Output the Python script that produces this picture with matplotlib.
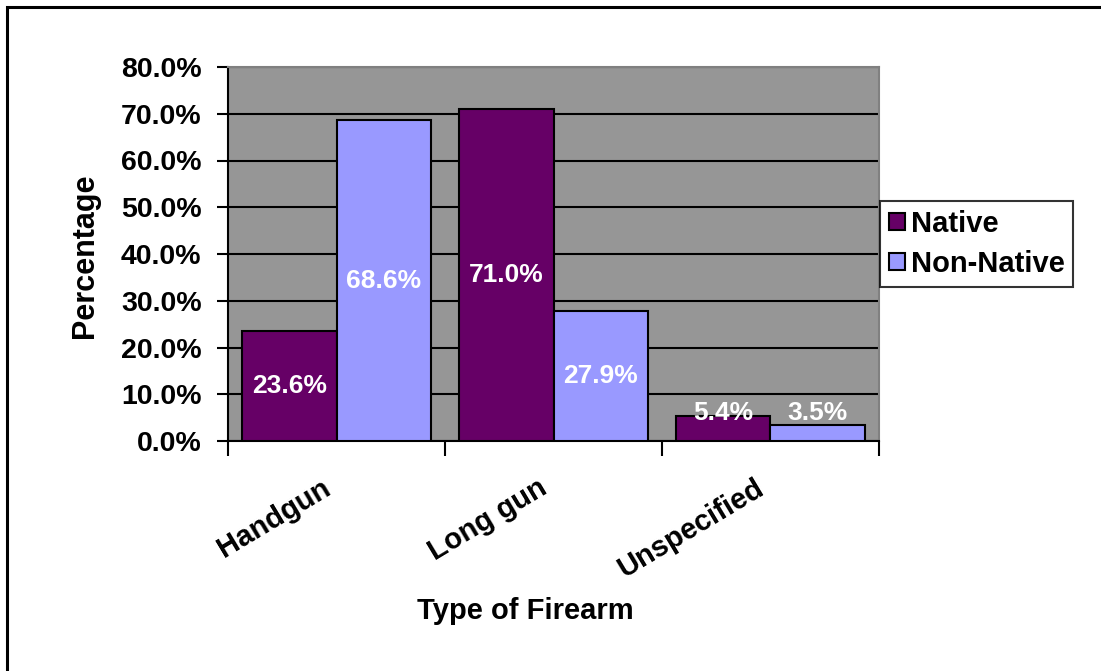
import numpy as np
import matplotlib.pyplot as plt
from matplotlib.patches import Rectangle

plt.rcParams['font.family'] = ['Liberation Sans', 'DejaVu Sans']
plt.rcParams['font.weight'] = 'bold'

categories = ['Handgun', 'Long gun', 'Unspecified']
native = [23.6, 71.0, 5.4]
non_native = [68.6, 27.9, 3.5]
yticks = [0, 10, 20, 30, 40, 50, 60, 70, 80]

W, H = 1101, 671
fig = plt.figure(figsize=(W / 100, H / 100), dpi=100)

# outer chart border (only left/top visible in the original)
fig.patches.append(Rectangle((7 / W, -0.1), 1.2, 1 - 7 / H + 0.1,
                             transform=fig.transFigure, fill=False,
                             edgecolor='black', linewidth=2.2))

ax = fig.add_axes([228 / W, 1 - 441 / H, (879 - 228) / W, (441 - 67) / H])
ax.set_facecolor('#969696')
for s in ax.spines.values():
    s.set_color('#808080')
    s.set_linewidth(1.5)
ax.spines['left'].set_color('black')
ax.spines['bottom'].set_color('black')

x = np.arange(len(categories))
bw = 0.435
ax.bar(x - bw / 2, native, bw, color='#660066', edgecolor='black',
       linewidth=1.5, label='Native', zorder=3)
ax.bar(x + bw / 2, non_native, bw, color='#9999FF', edgecolor='black',
       linewidth=1.5, label='Non-Native', zorder=3)

for i in range(len(categories)):
    for off, v in ((-bw / 2, native[i]), (bw / 2, non_native[i])):
        ax.text(x[i] + off, max(v / 2, 6.0), '%.1f%%' % v, ha='center',
                va='center', color='white', fontsize=19, fontweight='bold',
                zorder=4)

ax.set_xlim(-0.5, 2.5)
ax.set_ylim(0, 80)
ax.set_yticks(yticks)
ax.set_yticklabels(['%.1f%%' % t for t in yticks], fontsize=20.5, fontweight='bold')
ax.yaxis.grid(True, color='black', linewidth=1.5, zorder=0)
ax.set_axisbelow(True)
ax.tick_params(axis='y', length=8, width=1.5, pad=11)

ax.set_xticks([-0.5, 0.5, 1.5, 2.5])
ax.set_xticklabels([])
ax.tick_params(axis='x', length=11, width=1.5)
for i, c in enumerate(categories):
    ax.text(x[i] - 0.04, -9.6, c, rotation=31, rotation_mode='anchor',
            ha='right', va='center', fontsize=21, fontweight='bold',
            transform=ax.transData)

fig.text(525 / W, 1 - 611 / H, 'Type of Firearm', ha='center', va='center',
         fontsize=21, fontweight='bold')
fig.text(85 / W, 1 - 256 / H, 'Percentage', ha='center', va='center',
         rotation=90, fontsize=22, fontweight='bold')

leg = fig.legend(loc='upper left', bbox_to_anchor=(880 / W, 1 - 201 / H),
                 frameon=True, fancybox=False, edgecolor='black',
                 prop={'size': 21, 'weight': 'bold'}, handlelength=0.55,
                 handleheight=0.55, handletextpad=0.2, borderpad=0.3,
                 labelspacing=0.42, borderaxespad=0)
leg.get_frame().set_linewidth(1.5)

fig.savefig('out.png', dpi=100)
